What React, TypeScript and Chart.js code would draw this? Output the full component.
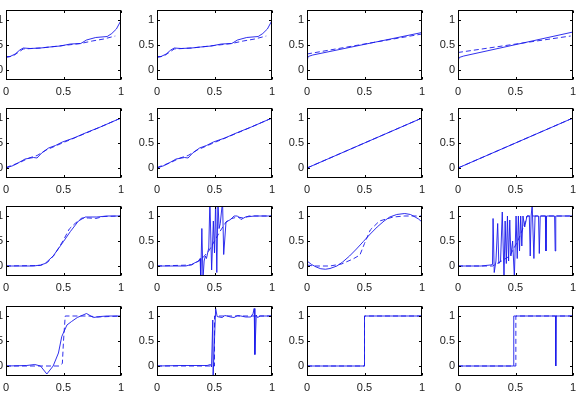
import { useEffect, useRef } from "react";
import { Chart, registerables } from "chart.js";

Chart.register(...registerables);

type Pt = [number, number];

// ---- data: each panel has a measured (solid) and a reference (dashed) curve ----
const xTicks = [0, 0.5, 1];
const yTicks = [0, 0.5, 1];

const r1c1Solid: Pt[] = [[0, 0.05], [0.003, 0.27], [0.035, 0.27], [0.08, 0.32], [0.12, 0.4], [0.15, 0.44], [0.21, 0.43], [0.3, 0.44], [0.38, 0.46], [0.47, 0.48], [0.56, 0.52], [0.65, 0.53], [0.7, 0.6], [0.78, 0.65], [0.88, 0.67], [0.92, 0.73], [0.96, 0.82], [0.995, 0.97], [1, 0.8]];
const r1c1Dashed: Pt[] = [[0, 0.25], [0.06, 0.28], [0.15, 0.42], [0.3, 0.44], [0.5, 0.49], [0.65, 0.53], [0.75, 0.58], [0.85, 0.62], [0.95, 0.68]];
const r1c3Solid: Pt[] = [[0, 0.18], [0.01, 0.27], [0.05, 0.3], [1, 0.75]];
const r1c3Dashed: Pt[] = [[0, 0.32], [1, 0.72]];
const r1c4Solid: Pt[] = [[0, 0.17], [0.01, 0.25], [0.05, 0.28], [1, 0.76]];
const r1c4Dashed: Pt[] = [[0, 0.35], [0.98, 0.68]];

const r2c1Solid: Pt[] = [[0, 0], [0.064, 0.05], [0.12, 0.12], [0.166, 0.18], [0.24, 0.21], [0.27, 0.2], [0.31, 0.3], [0.37, 0.4], [0.43, 0.45], [0.49, 0.52], [0.59, 0.6], [0.7, 0.71], [0.82, 0.82], [0.91, 0.91], [1, 1]];
const r2c1Dashed: Pt[] = [[0, 0.01], [0.12, 0.11], [0.2, 0.2], [0.27, 0.25], [0.35, 0.36], [0.5, 0.51], [0.75, 0.75], [1, 1]];
const r2c3Solid: Pt[] = [[0, 0], [1, 1]];
const r2c3Dashed: Pt[] = [[0, 0], [1, 1]];

const r3c1Solid: Pt[] = [[0, 0], [0.24, 0], [0.3, 0.02], [0.34, 0.05], [0.41, 0.2], [0.5, 0.49], [0.56, 0.69], [0.63, 0.9], [0.69, 0.98], [0.79, 0.98], [0.88, 1.0], [1, 1]];
const r3c1Dashed: Pt[] = [[0, 0], [0.3, 0.01], [0.36, 0.07], [0.42, 0.22], [0.5, 0.52], [0.55, 0.74], [0.6, 0.85], [0.66, 0.96], [0.72, 0.96], [0.78, 0.95], [0.85, 0.99], [1, 1]];
const r3c2Solid: Pt[] = [[0, 0], [0.25, 0], [0.3, 0.03], [0.36, 0.1], [0.375, 0.15], [0.38, -0.25], [0.39, 0.75], [0.4, -0.25], [0.41, 0.1], [0.42, 0.2], [0.43, 0.15], [0.45, 0.36], [0.46, 1.3], [0.475, -0.08], [0.49, 0.9], [0.5, 0.26], [0.51, 1.3], [0.52, -0.13], [0.53, 1.3], [0.54, 0.75], [0.55, 0.85], [0.57, 1.3], [0.58, 0.23], [0.6, 0.88], [0.64, 0.93], [0.67, 1.0], [0.7, 1.0], [0.73, 0.93], [0.77, 0.98], [0.85, 1.0], [1, 1]];
const r3c2Dashed: Pt[] = [[0, 0], [0.3, 0.02], [0.38, 0.12], [0.45, 0.3], [0.5, 0.5], [0.55, 0.7], [0.6, 0.88], [0.65, 0.95], [0.7, 0.98], [0.75, 0.96], [0.8, 1.0], [1, 1.0]];
const r3c3Solid: Pt[] = [[0, 0.1], [0.04, 0.03], [0.08, -0.02], [0.12, -0.055], [0.16, -0.065], [0.2, -0.05], [0.26, 0], [0.31, 0.08], [0.37, 0.2], [0.43, 0.34], [0.49, 0.49], [0.55, 0.64], [0.61, 0.78], [0.67, 0.9], [0.72, 0.98], [0.78, 1.03], [0.85, 1.05], [0.9, 1.03], [0.94, 0.98], [0.97, 0.94], [1, 0.88]];
const r3c3Dashed: Pt[] = [[0, 0.02], [0.06, 0], [0.2, 0], [0.3, 0.04], [0.4, 0.14], [0.46, 0.22], [0.5, 0.45], [0.55, 0.72], [0.63, 0.9], [0.75, 0.98], [0.85, 1.0], [1, 1.0]];
const r3c4Solid: Pt[] = [[0, 0], [0.2, 0], [0.28, 0.02], [0.3, 0.03], [0.305, 0.95], [0.315, -0.13], [0.33, 0.1], [0.345, 0.85], [0.355, 0.05], [0.37, 0.1], [0.385, 1.08], [0.4, -0.22], [0.41, 0.9], [0.42, 0.05], [0.43, 1.0], [0.44, 0.1], [0.45, 0.92], [0.46, 0.2], [0.475, 0.5], [0.49, -0.22], [0.505, 1.0], [0.515, 0.15], [0.525, 1.0], [0.535, 0.3], [0.545, 1.0], [0.555, 0.4], [0.565, 1.0], [0.58, 0.78], [0.6, 1.0], [0.62, 1.0], [0.628, 0.2], [0.636, 1.0], [0.645, 1.22], [0.66, 0.15], [0.67, 1.0], [0.7, 1.0], [0.707, 0.25], [0.715, 1.0], [0.76, 1.0], [0.765, 0.3], [0.77, 1.0], [0.84, 1.0], [0.845, 0.3], [0.85, 1.0], [1, 1]];
const r3c4Dashed: Pt[] = [[0, 0], [0.3, 0], [0.38, 0.1], [0.45, 0.2], [0.52, 0.5], [0.57, 0.78], [0.6, 1.0], [1, 1]];

const r4c1Solid: Pt[] = [[0, 0], [0.18, 0.01], [0.25, 0.03], [0.3, 0], [0.355, -0.16], [0.41, 0], [0.456, 0.26], [0.485, 0.59], [0.53, 0.82], [0.57, 0.89], [0.62, 0.97], [0.7, 1.05], [0.76, 0.97], [0.82, 0.99], [0.88, 1.0], [1, 1]];
const r4c1Dashed: Pt[] = [[0, 0], [0.46, 0], [0.49, 0.05], [0.5, 0.5], [0.515, 1.0], [0.65, 1.0], [0.72, 1.0], [0.8, 0.98], [1, 1]];
const r4c2Solid: Pt[] = [[0, 0], [0.2, 0.01], [0.436, 0.01], [0.465, 0.03], [0.474, -0.02], [0.485, 0.92], [0.488, -0.22], [0.51, 1.15], [0.523, 0.99], [0.54, 0.98], [0.567, 0.97], [0.59, 1.01], [0.61, 1.0], [0.64, 0.98], [0.67, 0.97], [0.7, 1.01], [0.73, 1.0], [0.77, 0.98], [0.816, 0.98], [0.835, 1.05], [0.845, 1.15], [0.851, 0.23], [0.863, 1.02], [0.874, 0.97], [0.9, 1.0], [1, 1]];
const stepDashed: Pt[] = [[0, 0], [0.5, 0], [0.5, 1], [1, 1]];
const r4c3Solid: Pt[] = [[0, 0], [0.5, 0], [0.5, 1], [1, 1]];
const r4c4Solid: Pt[] = [[0, 0], [0.485, 0], [0.485, 1], [0.5, 1], [0.85, 1], [0.85, 0], [0.853, 1], [1, 1]];
const r4c4Dashed: Pt[] = [[0, 0], [0.503, 0], [0.503, 1], [1, 1]];

const panelSeries: [Pt[], Pt[]][][] = [
  [[r1c1Solid, r1c1Dashed], [r1c1Solid, r1c1Dashed], [r1c3Solid, r1c3Dashed], [r1c4Solid, r1c4Dashed]],
  [[r2c1Solid, r2c1Dashed], [r2c1Solid, r2c1Dashed], [r2c3Solid, r2c3Dashed], [r2c3Solid, r2c3Dashed]],
  [[r3c1Solid, r3c1Dashed], [r3c2Solid, r3c2Dashed], [r3c3Solid, r3c3Dashed], [r3c4Solid, r3c4Dashed]],
  [[r4c1Solid, r4c1Dashed], [r4c2Solid, stepDashed], [r4c3Solid, stepDashed], [r4c4Solid, r4c4Dashed]],
];

// ---- layout of the 4x4 grid (plot-area rectangles) ----
const colLeft = [6, 157, 307, 458];
const rowTop = [10, 108, 206, 306];
const PLOT_W = 115;
const PLOT_H = 70;
const AX_W = 40; // room for y tick labels
const AX_H = 24; // room for x tick labels
const PAD_T = 16;
const PAD_R = 16;

const LINE_COLOR = "rgba(25, 25, 235, 0.9)";
const TEXT_COLOR = "#1a1a1a";
const FONT = { family: "'Liberation Sans', Arial, Helvetica, sans-serif", size: 11 };

const framePlugin = {
  id: "frame",
  afterDatasetsDraw(chart: any) {
    const { ctx, chartArea: a, scales } = chart;
    const l = Math.round(a.left) + 0.5;
    const r = Math.round(a.right) - 0.5;
    const t = Math.round(a.top) + 0.5;
    const b = Math.round(a.bottom) - 0.5;
    const tick = 2.5;
    ctx.save();
    ctx.strokeStyle = "#000";
    ctx.lineWidth = 1;
    ctx.strokeRect(l, t, r - l, b - t);
    ctx.beginPath();
    for (const v of xTicks) {
      const px = Math.round(scales.x.getPixelForValue(v)) + 0.5;
      ctx.moveTo(px, b);
      ctx.lineTo(px, b - tick);
      ctx.moveTo(px, t);
      ctx.lineTo(px, t + tick);
    }
    for (const v of yTicks) {
      const py = Math.round(scales.y.getPixelForValue(v)) + 0.5;
      ctx.moveTo(l, py);
      ctx.lineTo(l + tick, py);
      ctx.moveTo(r, py);
      ctx.lineTo(r - tick, py);
    }
    ctx.stroke();
    ctx.restore();
  },
};

function Panel({ left, top, solid, dashed }: { left: number; top: number; solid: Pt[]; dashed: Pt[] }) {
  const ref = useRef<HTMLCanvasElement>(null);
  const cw = AX_W + PLOT_W + PAD_R;
  const ch = PAD_T + PLOT_H + AX_H;

  useEffect(() => {
    const toXY = (pts: Pt[]) => pts.map(([x, y]) => ({ x, y }));
    const chart = new Chart(ref.current!, {
      type: "line",
      data: {
        datasets: [
          {
            data: toXY(dashed),
            borderColor: LINE_COLOR,
            borderWidth: 1,
            borderDash: [5, 3],
            pointRadius: 0,
            tension: 0,
            fill: false,
          },
          {
            data: toXY(solid),
            borderColor: LINE_COLOR,
            borderWidth: 1,
            pointRadius: 0,
            tension: 0,
            fill: false,
          },
        ],
      },
      options: {
        animation: false,
        responsive: false,
        events: [],
        layout: { padding: { top: PAD_T, right: PAD_R, left: 0, bottom: 0 } },
        plugins: { legend: { display: false }, tooltip: { enabled: false } },
        scales: {
          x: {
            type: "linear",
            min: 0,
            max: 1,
            grid: { display: false, drawTicks: false },
            border: { display: false },
            afterBuildTicks: (s: any) => {
              s.ticks = xTicks.map((value) => ({ value }));
            },
            afterFit: (s: any) => {
              s.height = AX_H;
            },
            ticks: {
              padding: 5,
              maxRotation: 0,
              autoSkip: false,
              color: TEXT_COLOR,
              font: FONT,
              callback: (v: any) => String(v),
            },
          },
          y: {
            type: "linear",
            min: -0.2,
            max: 1.2,
            grid: { display: false, drawTicks: false },
            border: { display: false },
            afterBuildTicks: (s: any) => {
              s.ticks = yTicks.map((value) => ({ value }));
            },
            afterFit: (s: any) => {
              s.width = AX_W;
            },
            ticks: {
              padding: 3,
              autoSkip: false,
              color: TEXT_COLOR,
              font: FONT,
              callback: (v: any) => String(v),
            },
          },
        },
      },
      plugins: [framePlugin],
    } as any);
    return () => chart.destroy();
  }, [solid, dashed]);

  return (
    <canvas
      ref={ref}
      width={cw}
      height={ch}
      style={{ position: "absolute", left: left - AX_W, top: top - PAD_T, width: cw, height: ch }}
    />
  );
}

export default function App() {
  return (
    <div
      style={{
        position: "fixed",
        left: 0,
        top: 0,
        width: 577,
        height: 398,
        overflow: "hidden",
        background: "#fff",
      }}
    >
      {panelSeries.map((row, ri) =>
        row.map(([solid, dashed], ci) => (
          <Panel key={`${ri}-${ci}`} left={colLeft[ci]} top={rowTop[ri]} solid={solid} dashed={dashed} />
        ))
      )}
    </div>
  );
}
